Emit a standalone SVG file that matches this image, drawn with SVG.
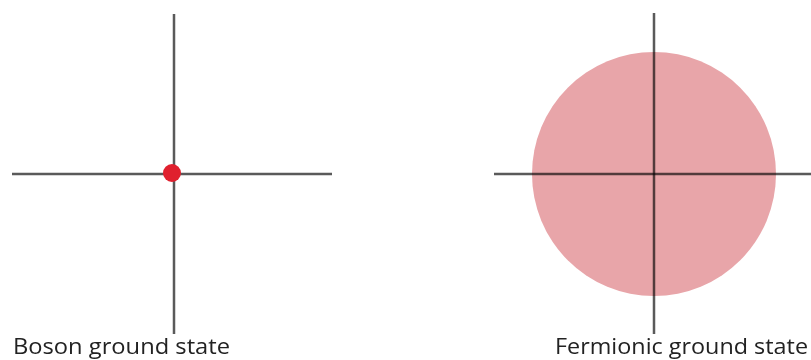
<svg xmlns="http://www.w3.org/2000/svg" width="811" height="360" viewBox="0 0 811 360">
<style>
.ax{stroke:#5a5a5a;stroke-width:2.5;fill:none;mix-blend-mode:multiply}
.lbl{font-family:"Open Sans","Liberation Sans",sans-serif;font-size:22px;fill:#222}
</style>
<rect width="811" height="360" fill="#fff"/>
<g id="fermion-cloud"><circle cx="654" cy="174" r="122" fill="#e8a5a9"/></g>
<g id="connectors">
<line class="ax" x1="174" y1="14" x2="174" y2="334"/>
<line class="ax" x1="12" y1="174" x2="332" y2="174"/>
<line class="ax" x1="654" y1="13" x2="654" y2="334"/>
<line class="ax" x1="494" y1="174" x2="811" y2="174"/>
</g>
<g id="boson-dot"><circle cx="172" cy="173" r="9" fill="#e0202e"/></g>
<g id="boson-label"><text class="lbl" x="13" y="354" textLength="217" lengthAdjust="spacingAndGlyphs">Boson ground state</text></g>
<g id="fermion-label"><text class="lbl" x="555" y="354" textLength="253" lengthAdjust="spacingAndGlyphs">Fermionic ground state</text></g>
</svg>
